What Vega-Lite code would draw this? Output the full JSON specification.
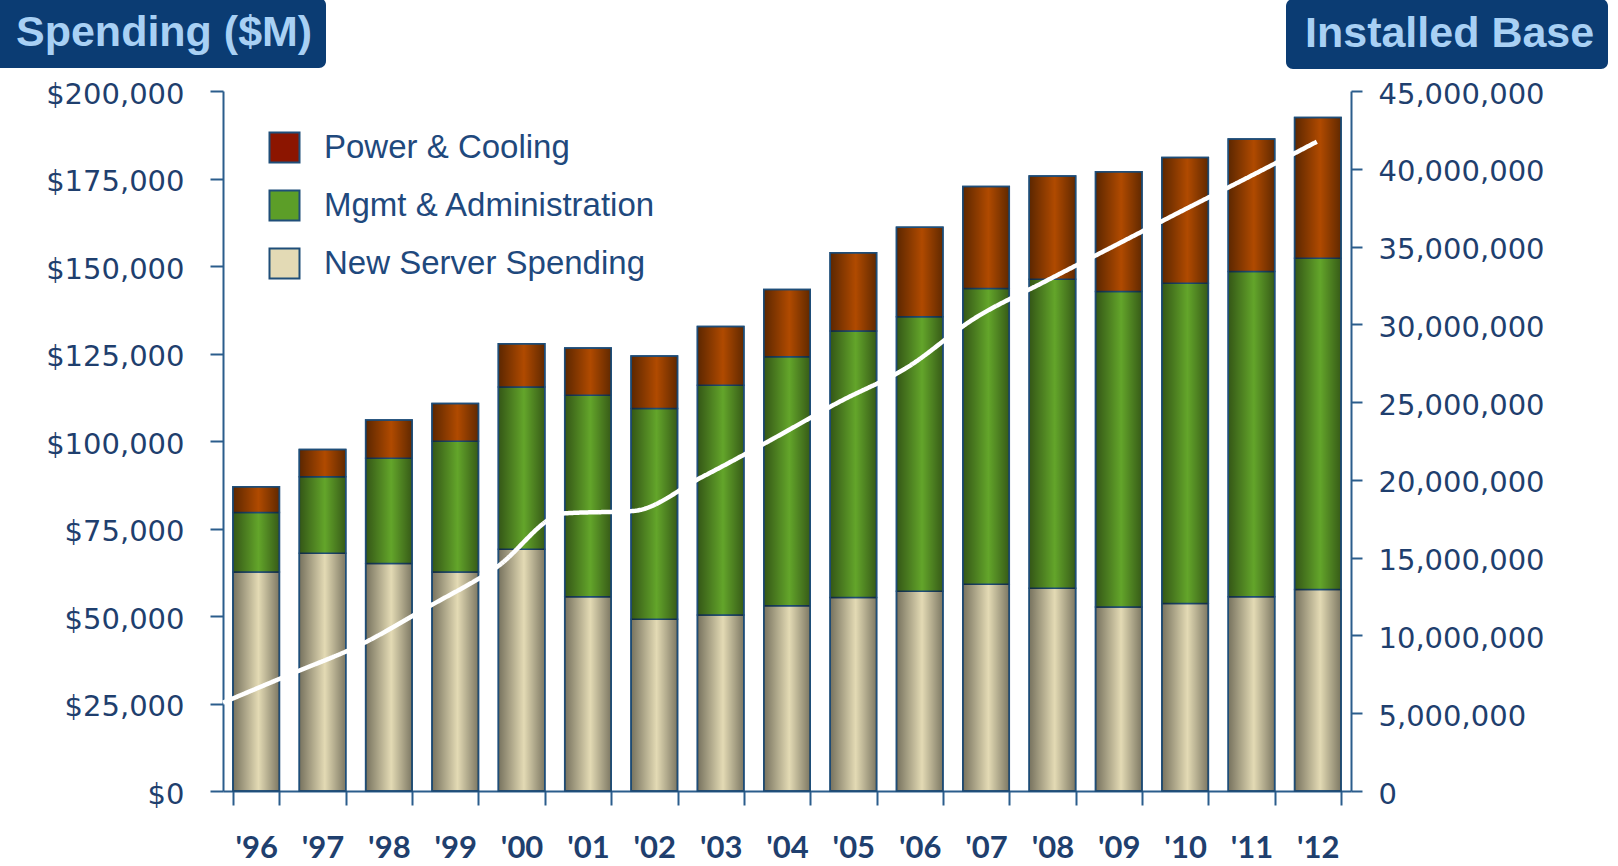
{
  "$schema": "https://vega.github.io/schema/vega-lite/v6.json",
  "width": 1128,
  "height": 700,
  "autosize": {"type": "none"},
  "padding": {"left": 223, "top": 91, "right": 267, "bottom": 75},
  "background": "white",
  "config": {
    "view": {"stroke": null},
    "axis": {"grid": false, "domainColor": "#2b5d8c", "tickColor": "#2b5d8c", "domainWidth": 2, "tickWidth": 2, "labelColor": "#1f3f6e", "title": null}
  },
  "datasets": {
    "components": [
      {"component": "New Server Spending", "stackRank": 1},
      {"component": "Mgmt & Administration", "stackRank": 2},
      {"component": "Power & Cooling", "stackRank": 3}
    ],
    "spend": [
      {"year": "'96", "component": "New Server Spending", "spend": 62600},
      {"year": "'96", "component": "Mgmt & Administration", "spend": 17000},
      {"year": "'96", "component": "Power & Cooling", "spend": 7300},
      {"year": "'97", "component": "New Server Spending", "spend": 67900},
      {"year": "'97", "component": "Mgmt & Administration", "spend": 21900},
      {"year": "'97", "component": "Power & Cooling", "spend": 7800},
      {"year": "'98", "component": "New Server Spending", "spend": 65000},
      {"year": "'98", "component": "Mgmt & Administration", "spend": 30100},
      {"year": "'98", "component": "Power & Cooling", "spend": 10900},
      {"year": "'99", "component": "New Server Spending", "spend": 62600},
      {"year": "'99", "component": "Mgmt & Administration", "spend": 37300},
      {"year": "'99", "component": "Power & Cooling", "spend": 10800},
      {"year": "'00", "component": "New Server Spending", "spend": 69100},
      {"year": "'00", "component": "Mgmt & Administration", "spend": 46300},
      {"year": "'00", "component": "Power & Cooling", "spend": 12400},
      {"year": "'01", "component": "New Server Spending", "spend": 55500},
      {"year": "'01", "component": "Mgmt & Administration", "spend": 57600},
      {"year": "'01", "component": "Power & Cooling", "spend": 13500},
      {"year": "'02", "component": "New Server Spending", "spend": 49100},
      {"year": "'02", "component": "Mgmt & Administration", "spend": 60200},
      {"year": "'02", "component": "Power & Cooling", "spend": 15000},
      {"year": "'03", "component": "New Server Spending", "spend": 50300},
      {"year": "'03", "component": "Mgmt & Administration", "spend": 65600},
      {"year": "'03", "component": "Power & Cooling", "spend": 16800},
      {"year": "'04", "component": "New Server Spending", "spend": 52900},
      {"year": "'04", "component": "Mgmt & Administration", "spend": 71200},
      {"year": "'04", "component": "Power & Cooling", "spend": 19200},
      {"year": "'05", "component": "New Server Spending", "spend": 55300},
      {"year": "'05", "component": "Mgmt & Administration", "spend": 76100},
      {"year": "'05", "component": "Power & Cooling", "spend": 22400},
      {"year": "'06", "component": "New Server Spending", "spend": 57100},
      {"year": "'06", "component": "Mgmt & Administration", "spend": 78400},
      {"year": "'06", "component": "Power & Cooling", "spend": 25600},
      {"year": "'07", "component": "New Server Spending", "spend": 59100},
      {"year": "'07", "component": "Mgmt & Administration", "spend": 84500},
      {"year": "'07", "component": "Power & Cooling", "spend": 29100},
      {"year": "'08", "component": "New Server Spending", "spend": 57900},
      {"year": "'08", "component": "Mgmt & Administration", "spend": 88300},
      {"year": "'08", "component": "Power & Cooling", "spend": 29500},
      {"year": "'09", "component": "New Server Spending", "spend": 52600},
      {"year": "'09", "component": "Mgmt & Administration", "spend": 90100},
      {"year": "'09", "component": "Power & Cooling", "spend": 34200},
      {"year": "'10", "component": "New Server Spending", "spend": 53600},
      {"year": "'10", "component": "Mgmt & Administration", "spend": 91500},
      {"year": "'10", "component": "Power & Cooling", "spend": 35900},
      {"year": "'11", "component": "New Server Spending", "spend": 55500},
      {"year": "'11", "component": "Mgmt & Administration", "spend": 92900},
      {"year": "'11", "component": "Power & Cooling", "spend": 37900},
      {"year": "'12", "component": "New Server Spending", "spend": 57600},
      {"year": "'12", "component": "Mgmt & Administration", "spend": 94600},
      {"year": "'12", "component": "Power & Cooling", "spend": 40200}
    ],
    "base": [
      {"year": 1996, "base": 5680000},
      {"year": 1997, "base": 7530000},
      {"year": 1998, "base": 9380000},
      {"year": 1999, "base": 11830000},
      {"year": 2000, "base": 14380000},
      {"year": 2001, "base": 17850000},
      {"year": 2002, "base": 18000000},
      {"year": 2003, "base": 20170000},
      {"year": 2004, "base": 22530000},
      {"year": 2005, "base": 24980000},
      {"year": 2006, "base": 27210000},
      {"year": 2007, "base": 30400000},
      {"year": 2008, "base": 32700000},
      {"year": 2009, "base": 34960000},
      {"year": 2010, "base": 37230000},
      {"year": 2011, "base": 39460000},
      {"year": 2012, "base": 41740000}
    ]
  },
  "layer": [
    {
      "data": {"name": "spend"},
      "encoding": {
        "x": {
          "field": "year", "type": "nominal", "sort": null,
          "scale": {"paddingInner": 0.3, "paddingOuter": 0.15},
          "axis": {"labelAngle": 0, "labelFont": "Lato", "labelFontWeight": "bold", "labelFontSize": 31, "tickSize": 14, "labelPadding": 28, "tickBand": "extent"}
        }
      },
      "layer": [
        {
          "transform": [
            {"lookup": "component", "from": {"data": {"name": "components"}, "key": "component", "fields": ["stackRank"]}}
          ],
          "mark": {"type": "bar", "stroke": "#1f4e79", "strokeWidth": 1.5},
          "encoding": {
            "y": {
              "field": "spend", "type": "quantitative", "stack": "zero",
              "scale": {"domain": [0, 200000], "nice": false},
              "axis": {"orient": "left", "values": [0, 25000, 50000, 75000, 100000, 125000, 150000, 175000, 200000], "format": "$,d", "labelFont": "DejaVu Sans", "labelFontSize": 29, "tickSize": 13, "labelPadding": 26, "labelOffset": 3}
            },
            "order": {"field": "stackRank", "type": "quantitative", "sort": "ascending"},
            "fill": {
              "field": "component", "type": "nominal",
              "scale": {
                "domain": ["New Server Spending", "Mgmt & Administration", "Power & Cooling"],
                "range": ["#e3dab4", "#63a52a", "#b04a00"]
              },
              "legend": null
            },
            "opacity": {
              "datum": "Spending ($M)", "type": "ordinal",
              "scale": {"range": [1, 1]},
              "legend": {
                "title": null, "orient": "none", "legendX": -230, "legendY": -93, "padding": 13,
                "fillColor": "#0b3c73", "cornerRadius": 7,
                "symbolSize": 0, "symbolStrokeWidth": 0, "symbolOpacity": 0, "labelOffset": -33,
                "labelFont": "Liberation Sans", "labelFontWeight": "bold", "labelFontSize": 43, "labelColor": "#a8d0f4", "labelLimit": 800
              }
            }
          }
        },
        {
          "mark": {
            "type": "bar",
            "fill": {"gradient": "linear", "x1": 0, "y1": 0, "x2": 1, "y2": 0, "stops": [
              {"offset": 0, "color": "rgba(0,0,0,0.48)"},
              {"offset": 0.55, "color": "rgba(0,0,0,0)"},
              {"offset": 1, "color": "rgba(0,0,0,0.45)"}
            ]},
            "stroke": "#1f4e79", "strokeWidth": 1.5
          },
          "encoding": {
            "y": {"aggregate": "sum", "field": "spend", "type": "quantitative"}
          }
        },
        {
          "mark": {"type": "point", "shape": "square", "filled": true, "size": 0},
          "encoding": {
            "color": {
              "field": "component", "type": "nominal",
              "scale": {
                "domain": ["Power & Cooling", "Mgmt & Administration", "New Server Spending"],
                "range": ["#8c1500", "#5c9e28", "#e3dab5"]
              },
              "legend": {
                "title": null, "orient": "none", "legendX": 45, "legendY": 40, "padding": 0,
                "symbolType": "square", "symbolSize": 900, "symbolStrokeColor": "#1f4e79", "symbolStrokeWidth": 2, "symbolOpacity": 1,
                "labelFont": "Liberation Sans", "labelFontSize": 33, "labelColor": "#1f497d", "labelOffset": 23, "rowPadding": 19, "labelLimit": 600
              }
            }
          }
        }
      ]
    },
    {
      "data": {"name": "base"},
      "mark": {"type": "line", "color": "white", "strokeWidth": 4.5, "interpolate": "monotone"},
      "encoding": {
        "x": {"field": "year", "type": "quantitative", "scale": {"domain": [1996, 2012.5], "nice": false, "zero": false}, "axis": null},
        "y": {
          "field": "base", "type": "quantitative",
          "scale": {"domain": [0, 45000000], "nice": false},
          "axis": {"orient": "right", "values": [0, 5000000, 10000000, 15000000, 20000000, 25000000, 30000000, 35000000, 40000000, 45000000], "format": ",d", "labelFont": "DejaVu Sans", "labelFontSize": 29, "tickSize": 11, "labelPadding": 16, "labelOffset": 3}
        },
        "strokeDash": {
          "datum": "Installed Base", "type": "nominal",
          "scale": {"range": [[1, 0]]},
          "legend": {
            "title": null, "orient": "none", "legendX": 1063, "legendY": -92, "padding": 13,
            "fillColor": "#0b3c73", "cornerRadius": 7,
            "symbolSize": 0, "symbolStrokeWidth": 0, "symbolOpacity": 0, "labelOffset": -37,
            "labelFont": "Liberation Sans", "labelFontWeight": "bold", "labelFontSize": 43, "labelColor": "#a8d0f4", "labelLimit": 800
          }
        }
      }
    }
  ],
  "resolve": {"scale": {"x": "independent", "y": "independent"}}
}
